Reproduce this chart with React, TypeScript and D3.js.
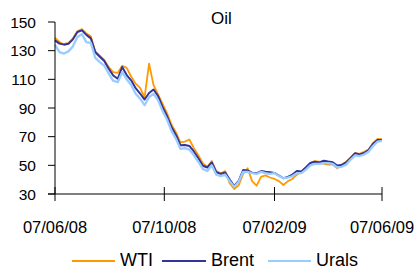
import React from "react";
import * as d3 from "d3";

const START_DATE = "2008-06-07";
const STEP_DAYS = 5;

const wti = [
  139.0, 136.0, 134.5, 135.5, 138.5, 143.5, 145.0, 142.0, 140.0, 129.5,
  126.5, 123.5, 118.5, 115.0, 114.5, 119.5, 118.0, 112.0, 107.0, 104.0,
  97.5, 121.0, 106.0, 99.5, 93.0, 86.5, 78.5, 73.0, 66.0, 66.5,
  68.0, 62.0, 57.0, 51.5, 49.0, 53.0, 46.0, 44.5, 46.0, 37.5,
  33.5, 36.0, 44.0, 48.0, 39.0, 35.8, 42.0, 43.0, 41.5, 40.5,
  39.0, 36.3, 39.0, 40.5, 43.5, 45.5, 48.5, 51.5, 53.0, 52.5,
  51.0, 50.5, 50.5, 48.0, 50.5, 52.5, 55.5, 58.5, 58.0, 59.5,
  61.0, 65.5, 68.5, 68.3,
];

const brent = [
  137.2, 134.9, 134.2, 134.8, 137.9, 143.0, 144.2, 141.0, 138.6, 128.9,
  125.8, 122.8, 117.4, 112.7, 110.4, 118.6, 113.0, 109.3, 103.8, 100.1,
  95.9, 100.5, 102.9, 98.4, 90.7, 84.4, 76.7, 71.2, 64.0, 64.2,
  63.5, 59.7, 54.9, 49.7, 48.5, 52.0, 45.3, 44.0, 45.0, 40.1,
  35.6, 39.1, 46.7, 46.4, 44.9, 44.4, 46.0, 45.5, 45.2, 44.7,
  42.9, 41.0, 41.9, 43.6, 46.0, 45.7, 48.5, 51.6, 52.5, 52.0,
  53.2, 52.6, 52.1, 49.9, 50.2, 52.0, 55.1, 58.4, 57.6, 58.6,
  60.7, 65.0, 67.7, 67.7,
];

const urals = [
  134.0, 129.0, 128.0, 129.5, 133.0, 139.5, 141.5, 136.0, 135.5, 125.0,
  122.0, 119.5, 114.0, 109.0, 108.0, 115.0, 110.0, 106.0, 100.0, 96.5,
  92.0, 97.5, 100.0, 95.5, 88.0, 82.0, 74.0, 68.5, 61.5, 62.0,
  61.0, 57.0, 52.5, 47.5, 46.0, 50.0, 43.5, 42.5, 43.5, 39.0,
  35.0, 38.5, 45.5, 45.5, 44.5, 44.0, 45.5, 44.5, 44.0, 44.5,
  42.5, 41.0, 41.5, 42.5, 44.5, 44.5, 47.0, 50.0, 51.0, 51.0,
  51.5, 51.5, 51.0, 48.5, 49.0, 50.5, 54.0, 57.0, 56.5, 57.5,
  59.5, 63.5, 66.5, 67.0,
];

const yTicks = [30, 50, 70, 90, 110, 130, 150];
const xTickDates = ["2008-06-07", "2008-10-07", "2009-02-07", "2009-06-07"];
const xTickLabels = ["07/06/08", "07/10/08", "07/02/09", "07/06/09"];
const seriesNames = ["WTI", "Brent", "Urals"];

const parse = d3.utcParse("%Y-%m-%d");
const startDate = parse(START_DATE) as Date;
const dates = wti.map((_, i) => d3.utcDay.offset(startDate, i * STEP_DAYS));

const FONT = "'Liberation Sans', Arial, sans-serif";

export default function App() {
  const x = d3
    .scaleUtc()
    .domain([parse("2008-06-07") as Date, parse("2009-06-07") as Date])
    .range([55, 382]);
  const y = d3.scaleLinear().domain([30, 150]).range([194, 22]);

  const mk = (vals: number[]) =>
    d3
      .line<number>()
      .x((_, i) => x(dates[i]))
      .y((v) => y(v))(vals) as string;

  const series = [
    { name: seriesNames[0], vals: wti, color: "#FF9900", w: 1.8 },
    { name: seriesNames[1], vals: brent, color: "#333399", w: 2 },
    { name: seriesNames[2], vals: urals, color: "#99CCFF", w: 2.3 },
  ];

  const legend = [
    { lx1: 72, lx2: 115, tx: 120 },
    { lx1: 162, lx2: 206, tx: 211 },
    { lx1: 268, lx2: 311, tx: 316 },
  ];

  return (
    <svg
      width={414}
      height={269}
      style={{ position: "absolute", left: 0, top: 0, background: "#fff" }}
      fontFamily={FONT}
    >
      <rect x={0} y={0} width={414} height={269} fill="#fff" />
      <text x={221.5} y={24} textAnchor="middle" fontSize={17} fill="#000">
        Oil
      </text>

      {series.map((s) => (
        <path
          key={s.name}
          d={mk(s.vals)}
          fill="none"
          stroke={s.color}
          strokeWidth={s.w}
          strokeLinejoin="round"
        />
      ))}

      {/* y axis */}
      <line x1={55} x2={55} y1={22} y2={194} stroke="#000" strokeWidth={1} />
      {yTicks.map((t) => (
        <g key={t}>
          <line x1={48} x2={55} y1={y(t)} y2={y(t)} stroke="#000" strokeWidth={1} />
          <text
            x={36}
            y={y(t)}
            dy="0.36em"
            textAnchor="end"
            fontSize={15.5}
            fill="#000"
          >
            {t}
          </text>
        </g>
      ))}

      {/* x axis */}
      <line x1={48} x2={382} y1={194} y2={194} stroke="#000" strokeWidth={1} />
      {xTickDates.map((d, i) => {
        const xp = x(parse(d) as Date);
        return (
          <g key={d}>
            <line x1={xp} x2={xp} y1={187} y2={201} stroke="#000" strokeWidth={1} />
            <text x={xp} y={233} textAnchor="middle" fontSize={16.5} fill="#000">
              {xTickLabels[i]}
            </text>
          </g>
        );
      })}

      {/* legend */}
      {series.map((s, i) => (
        <g key={"lg" + s.name}>
          <line
            x1={legend[i].lx1}
            x2={legend[i].lx2}
            y1={261}
            y2={261}
            stroke={s.color}
            strokeWidth={2}
          />
          <text x={legend[i].tx} y={266} fontSize={18} fill="#000">
            {s.name}
          </text>
        </g>
      ))}
    </svg>
  );
}
